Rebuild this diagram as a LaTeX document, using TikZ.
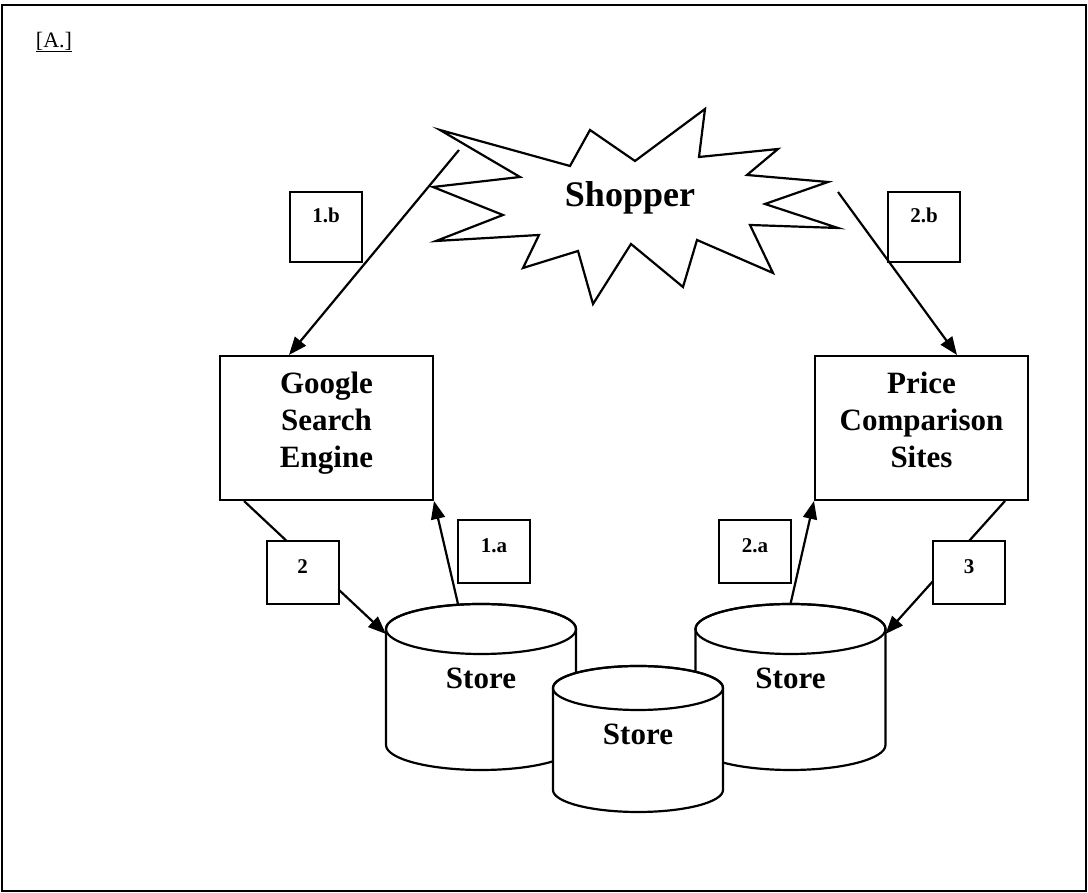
\documentclass[tikz,border=0pt]{standalone}
\usepackage{fontspec}
\setmainfont{Liberation Serif}
\usetikzlibrary{arrows.meta,positioning}
\tikzset{
  bigbox/.style={draw, line width=2pt, fill=white, minimum width=213pt, minimum height=144pt, inner sep=0pt},
  boxtext/.style={font=\fontsize{31}{37}\selectfont\bfseries, align=center, inner sep=0pt},
  lblbox/.style={draw, line width=2pt, fill=white, minimum width=72pt, minimum height=63pt, inner sep=0pt,
    font=\fontsize{21}{25}\selectfont\bfseries, text height=14pt, text depth=12pt},
  storetxt/.style={font=\fontsize{31}{37}\selectfont\bfseries, inner sep=0pt},
  arr/.style={-{Triangle[length=18pt,width=14pt]}, line width=2.2pt},
}
\begin{document}
\begin{tikzpicture}[x=1pt, y=1pt, line width=2.2pt]
  \useasboundingbox (0,0) rectangle (1088,893);
  \draw (2,2) rectangle (1086,888);
  \node[font=\fontsize{22}{26}\selectfont, inner sep=0pt] (tag) at (54,851) {\underline{[A.]}};

  \draw (440,763) -- (570,727) -- (590,763) -- (635,732) -- (705,784) -- (699,736)
    -- (778,744) -- (747,718) -- (828,711) -- (765,689) -- (838,665) -- (750,668)
    -- (773,620) -- (697,653) -- (683,606) -- (631,649) -- (593,589) -- (578,642)
    -- (523,625) -- (539,658) -- (436,652) -- (503,678) -- (433,706) -- (520,716) -- cycle;
  \node[font=\fontsize{36}{42}\selectfont\bfseries] (shopper) at (630,695) {Shopper};
  \coordinate (shopL) at (459,743);
  \coordinate (shopR) at (838,701);

  \node[bigbox] (google) at (326.5,465) {};
  \node[boxtext, below=16pt of google.north] (googletxt) {Google\\Search\\Engine};
  \node[bigbox] (price) at (921.5,465) {};
  \node[boxtext, below=16pt of price.north] (pricetxt) {Price\\Comparison\\Sites};

  \foreach \nm/\cx/\cy/\rx/\ry/\h/\dy in {storeL/481/264/95/25/116/49, storeR/790.5/264/95/25/116/49, storeM/638/205/85/22/102/46} {
    \filldraw[fill=white] (\cx-\rx,\cy) -- (\cx-\rx,\cy-\h)
      arc[start angle=180, end angle=360, x radius=\rx pt, y radius=\ry pt]
      -- (\cx+\rx,\cy) arc[start angle=0, end angle=180, x radius=\rx pt, y radius=\ry pt] -- cycle;
    \draw (\cx,\cy) ellipse[x radius=\rx pt, y radius=\ry pt];
    \node[storetxt] (\nm) at (\cx,\cy-\dy) {Store};
    \coordinate (\nm-n) at (\cx,\cy+\ry);
    \coordinate (\nm-w) at (\cx-\rx,\cy-5);
    \coordinate (\nm-e) at (\cx+\rx,\cy-5);
  }

  \node[lblbox, minimum height=70pt, text depth=22pt] (lbl1b) at (326,666) {1.b};
  \node[lblbox, minimum height=70pt, text depth=22pt] (lbl2b) at (924,666) {2.b};

  \draw[arr] (shopL) -- ([xshift=70pt]google.north west);
  \draw[arr] (shopR) -- ([xshift=-72pt]price.north east);
  \draw[arr] ([xshift=25pt]google.south west) -- (storeL-w);
  \draw[arr] ([xshift=-23pt]storeL-n) -- (google.south east);
  \draw[arr] (storeR-n) -- (price.south west);
  \draw[arr] ([xshift=-24pt]price.south east) -- (storeR-e);

  \node[lblbox] (lbl2) at (302.5,320.5) {2};
  \node[lblbox] (lbl1a) at (494,341) {1.a};
  \node[lblbox] (lbl2a) at (755,341) {2.a};
  \node[lblbox] (lbl3) at (969,320.5) {3};
\end{tikzpicture}
\end{document}
